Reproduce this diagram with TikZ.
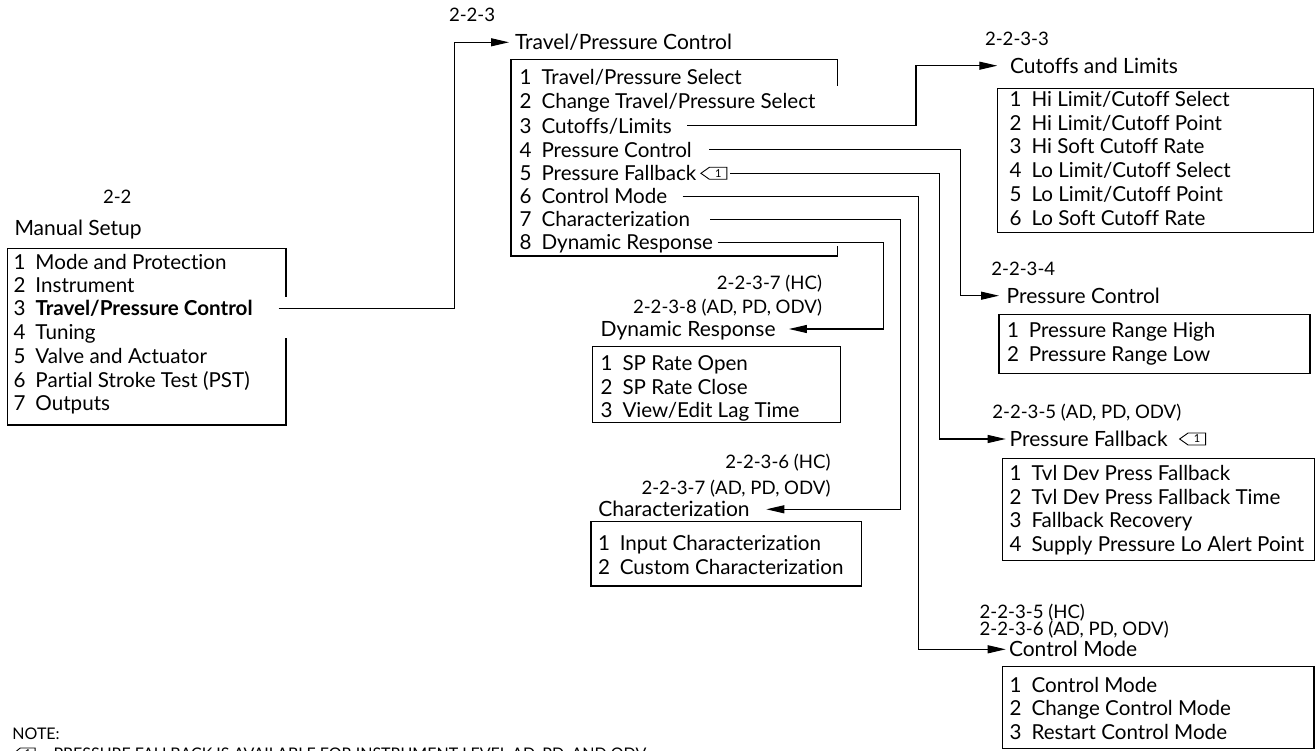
\documentclass[tikz,border=0pt]{standalone}
\usepackage{fontspec}
\setmainfont{Lato}[Ligatures=NoCommon]
\usetikzlibrary{arrows.meta}
\newcommand{\itm}[2]{\makebox[21.8pt][l]{#1}#2}
\tikzset{
  txt/.style={anchor=west,inner sep=0pt,outer sep=0pt,font=\fontsize{21pt}{24pt}\selectfont,text height=20pt,text depth=4.95pt},
  itxt/.style={anchor=west,inner sep=0pt,outer sep=0pt,font=\fontsize{20.6pt}{24pt}\selectfont,text height=20pt,text depth=5.2pt},
  ltxt/.style={anchor=west,inner sep=0pt,outer sep=0pt,font=\fontsize{18.6pt}{22pt}\selectfont,text height=18pt,text depth=4.7pt},
  rtxt/.style={ltxt,anchor=east},
  small/.style={anchor=west,inner sep=0pt,outer sep=0pt,font=\fontsize{16pt}{18pt}\selectfont,text height=15pt,text depth=3.5pt},
  frame/.style={line width=1.1pt,line join=miter},
  conn/.style={line width=1.1pt,-{Triangle[length=18pt,width=8pt]}},
  notetag/.pic={
    \draw[line width=0.9pt,line join=miter] (0,0) -- (8.5,-6) -- (26,-6) -- (26,6) -- (8.5,6) -- cycle;
    \node[inner sep=0pt,font=\fontsize{11pt}{11pt}\selectfont] (-num) at (17.5,0) {1};
    \coordinate (-end) at (26,0);
  }
}
\begin{document}
\begin{tikzpicture}[x=1pt,y=-1pt]
\useasboundingbox (0,0) rectangle (1315,751);

% ---------- Manual Setup ----------
\node[ltxt] (ms22) at (103,197.3) {2-2};
\node[txt] (mst) at (14.5,227.7) {Manual Setup};
\draw[frame] (286,297) -- (286,248.3) -- (7.3,248.3) -- (7.3,425) -- (286,425) -- (286,338);
\node[itxt] (ms1) at (13.7,261.7) {\itm{1}{Mode and Protection}};
\node[itxt] (ms2) at (13.7,285.3) {\itm{2}{Instrument}};
\node[itxt] (ms3) at (13.7,308.6) {\itm{3}{\textbf{Travel/Pressure Control}}};
\node[itxt] (ms4) at (13.7,332.5) {\itm{4}{Tuning}};
\node[itxt] (ms5) at (13.7,356.1) {\itm{5}{Valve and Actuator}};
\node[itxt] (ms6) at (13.7,379.7) {\itm{6}{Partial Stroke Test (PST)}};
\node[itxt] (ms7) at (13.7,403.3) {\itm{7}{Outputs}};

% ---------- Travel/Pressure Control ----------
\node[ltxt] (l223) at (449,15) {2-2-3};
\node[txt] (tpc) at (515,42.3) {Travel/Pressure Control};
\draw[frame] (837.3,86) -- (837.3,59.3) -- (511,59.3) -- (511,256) -- (837.3,256) -- (837.3,246);
\node[itxt] (tp1) at (519.7,77.3) {\itm{1}{Travel/Pressure Select}};
\node[itxt] (tp2) at (519.7,101) {\itm{2}{Change Travel/Pressure Select}};
\node[itxt] (tp3) at (519.7,125.9) {\itm{3}{Cutoffs/Limits}};
\node[itxt] (tp4) at (519.7,149.8) {\itm{4}{Pressure Control}};
\node[itxt] (tp5) at (519.7,173.3) {\itm{5}{Pressure Fallback}};
\pic (tgA) at ([xshift=4.5pt]tp5.east) {notetag};
\node[itxt] (tp6) at (519.7,196.5) {\itm{6}{Control Mode}};
\node[itxt] (tp7) at (519.7,219.6) {\itm{7}{Characterization}};
\node[itxt] (tp8) at (519.7,242.5) {\itm{8}{Dynamic Response}};

% ---------- Cutoffs and Limits ----------
\node[ltxt] (l2233) at (985,39.3) {2-2-3-3};
\node[txt] (cal) at (1010,65.7) {Cutoffs and Limits};
\draw[frame] (997.7,88.3) rectangle (1313.3,232.7);
\node[itxt] (cl1) at (1009.7,99) {\itm{1}{Hi Limit/Cutoff Select}};
\node[itxt] (cl2) at (1009.7,122.8) {\itm{2}{Hi Limit/Cutoff Point}};
\node[itxt] (cl3) at (1009.7,146.6) {\itm{3}{Hi Soft Cutoff Rate}};
\node[itxt] (cl4) at (1009.7,170.4) {\itm{4}{Lo Limit/Cutoff Select}};
\node[itxt] (cl5) at (1009.7,194.2) {\itm{5}{Lo Limit/Cutoff Point}};
\node[itxt] (cl6) at (1009.7,218) {\itm{6}{Lo Soft Cutoff Rate}};

% ---------- Pressure Control ----------
\node[ltxt] (l2234) at (991.3,269.3) {2-2-3-4};
\node[txt] (pct) at (1006.7,295.7) {Pressure Control};
\draw[frame] (999,314.3) rectangle (1310,373.3);
\node[itxt] (pc1) at (1007,330) {\itm{1}{Pressure Range High}};
\node[itxt] (pc2) at (1007,354) {\itm{2}{Pressure Range Low}};

% ---------- Pressure Fallback ----------
\node[ltxt] (l2235) at (992.3,411.7) {2-2-3-5 (AD, PD, ODV)};
\node[txt] (pft) at (1009.7,439) {Pressure Fallback};
\pic (tgB) at ([xshift=12pt]pft.east) {notetag};
\draw[frame] (1002.7,458.3) rectangle (1314.3,560.7);
\node[itxt] (pf1) at (1009.7,473.3) {\itm{1}{Tvl Dev Press Fallback}};
\node[itxt] (pf2) at (1009.7,496.9) {\itm{2}{Tvl Dev Press Fallback Time}};
\node[itxt] (pf3) at (1009.7,520.5) {\itm{3}{Fallback Recovery}};
\node[itxt] (pf4) at (1009.7,544.1) {\itm{4}{Supply Pressure Lo Alert Point}};

% ---------- Control Mode ----------
\node[ltxt] (l2235h) at (979.7,611.7) {2-2-3-5 (HC)};
\node[ltxt] (l2236) at (979.7,629.3) {2-2-3-6 (AD, PD, ODV)};
\node[txt] (cmt) at (1009,649.3) {Control Mode};
\draw[frame] (1002.7,666.7) rectangle (1314,748.3);
\node[itxt] (cm1) at (1009.7,685) {\itm{1}{Control Mode}};
\node[itxt] (cm2) at (1009.7,708.3) {\itm{2}{Change Control Mode}};
\node[itxt] (cm3) at (1009.7,731.7) {\itm{3}{Restart Control Mode}};

% ---------- Dynamic Response ----------
\node[rtxt] (l2237h) at (822,283.3) {2-2-3-7 (HC)};
\node[rtxt] (l2238) at (822,307.3) {2-2-3-8 (AD, PD, ODV)};
\node[txt] (drt) at (600.7,329) {Dynamic Response};
\draw[frame] (592.7,346.7) rectangle (840.7,422.7);
\node[itxt] (dr1) at (600.7,363.3) {\itm{1}{SP Rate Open}};
\node[itxt] (dr2) at (600.7,386.7) {\itm{2}{SP Rate Close}};
\node[itxt] (dr3) at (600.7,410) {\itm{3}{View/Edit Lag Time}};

% ---------- Characterization ----------
\node[rtxt] (l2236h) at (830.5,461.7) {2-2-3-6 (HC)};
\node[rtxt] (l2237) at (830.5,488.3) {2-2-3-7 (AD, PD, ODV)};
\node[txt] (cht) at (598.3,509.3) {Characterization};
\draw[frame] (591,521.7) rectangle (861.7,586);
\node[itxt] (ch1) at (598,543.3) {\itm{1}{Input Characterization}};
\node[itxt] (ch2) at (598,566.7) {\itm{2}{Custom Characterization}};

% ---------- Note ----------
\node[small] (note) at (12.5,733.3) {NOTE:};
\pic[xscale=0.85] (tgC) at (13,754) {notetag};
\node[small] (notetxt) at (53.5,754) {PRESSURE FALLBACK IS AVAILABLE FOR INSTRUMENT LEVEL AD, PD, AND ODV.};

% ---------- Connectors ----------
\coordinate (v0) at (454.3,0);
\coordinate (v3) at (916,0);
\coordinate (v4) at (960.7,0);
\coordinate (v5) at (939.3,0);
\coordinate (v6) at (918.3,0);
\coordinate (v7) at (900.7,0);
\coordinate (v8) at (883.3,0);

\draw[conn] ([xshift=26pt]ms3.east) -- (ms3.east -| v0) |- ([xshift=-6pt]tpc.west);
\draw[conn] ([xshift=15.6pt]tp3.east) -- (tp3.east -| v3) |- ([xshift=-12.7pt]cal.west);
\draw[conn] ([xshift=17.3pt]tp4.east) -- (tp4.east -| v4) |- ([xshift=-7.7pt]pct.west);
\draw[conn] ([xshift=3.4pt]tgA-end) -- (tgA-end -| v5) |- ([xshift=-4pt]pft.west);
\draw[conn] ([xshift=15.3pt]tp6.east) -- (tp6.east -| v6) |- ([xshift=-3.3pt]cmt.west);
\draw[conn] ([xshift=20.3pt]tp7.east) -- (tp7.east -| v7) |- ([xshift=16.7pt]cht.east);
\draw[conn] ([xshift=4.5pt]tp8.east) -- (tp8.east -| v8) |- ([xshift=13.4pt]drt.east);
\end{tikzpicture}
\end{document}
